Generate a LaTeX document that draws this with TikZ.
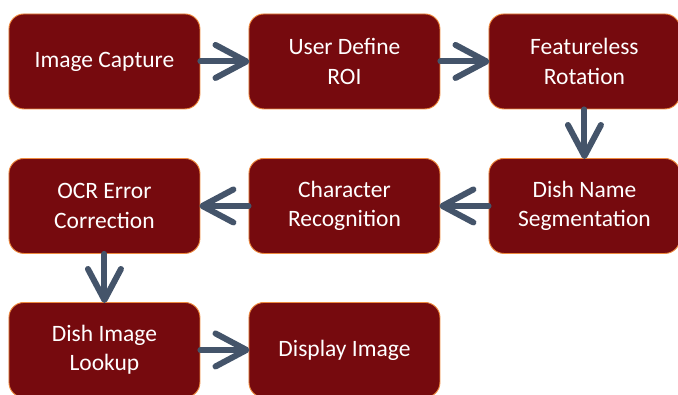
\documentclass[tikz,border=0pt]{standalone}
\usepackage{fontspec}
\setmainfont{Carlito}
\usetikzlibrary{arrows.meta}
\definecolor{boxred}{HTML}{760A0E}
\definecolor{boxline}{HTML}{EE8A3E}
\definecolor{arrowc}{HTML}{44546A}
\tikzset{
  stepbox/.style={draw=boxline, line width=0.9pt, fill=boxred, rounded corners=15pt,
    minimum width=191pt, minimum height=95pt, inner sep=0pt, text=white,
    align=center, font=\fontsize{23.5}{29.5}\selectfont, anchor=north west},
  flow/.style={draw=arrowc, line width=6pt, line cap=round, line join=round,
    -{Straight Barb[length=31pt, width=33pt, line cap=round, line join=round]}, shorten >=-1pt}
}
\begin{document}
\begin{tikzpicture}[x=1pt,y=-1pt]
\useasboundingbox[fill=white] (0,0) rectangle (678,394);
\node[stepbox] (a) at (8.5,13.5) {Image Capture};
\node[stepbox] (b) at (248.5,13.5) {User Define\\ROI};
\node[stepbox] (c) at (488.5,13.5) {Featureless\\Rotation};
\node[stepbox] (d) at (488.5,158) {Dish Name\\Segmentation};
\node[stepbox] (e) at (248.5,158) {Character\\Recognition};
\node[stepbox] (f) at (8.5,158) {OCR Error\\Correction};
\node[stepbox] (g) at (8.5,302) {Dish Image\\Lookup};
\node[stepbox] (h) at (248.5,302) {Display Image};
\draw[flow] (a.east) -- (b.west);
\draw[flow] (b.east) -- (c.west);
\draw[flow] (c.south) -- (d.north);
\draw[flow] (d.west) -- (e.east);
\draw[flow] (e.west) -- (f.east);
\draw[flow] (f.south) -- (g.north);
\draw[flow] (g.east) -- (h.west);
\end{tikzpicture}
\end{document}
